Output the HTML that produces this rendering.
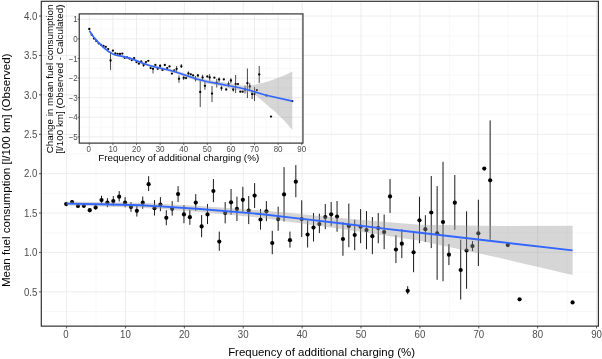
<!DOCTYPE html>
<html lang="en"><head><meta charset="utf-8"><title>Mean fuel consumption vs frequency of additional charging</title>
<style>html,body{margin:0;padding:0;background:#fff}svg{display:block;will-change:transform}text{font-family:"Liberation Sans",Arial,Helvetica,sans-serif}.tk{font-size:10.4px;fill:#4d4d4d}.lb{font-size:11.45px;fill:#000}.itk{font-size:8.5px;fill:#4d4d4d}.ilb{font-size:9.8px;fill:#000}</style></head><body>
<svg width="602" height="359" viewBox="0 0 602 359">
<rect width="602" height="359" fill="#fff"/>
<g stroke="#f0f0f0" stroke-width="0.5" fill="none">
<line x1="41.3" x2="598.4" y1="35.75" y2="35.75"/>
<line x1="41.3" x2="598.4" y1="75.15" y2="75.15"/>
<line x1="41.3" x2="598.4" y1="114.55" y2="114.55"/>
<line x1="41.3" x2="598.4" y1="153.95" y2="153.95"/>
<line x1="41.3" x2="598.4" y1="193.35" y2="193.35"/>
<line x1="41.3" x2="598.4" y1="232.75" y2="232.75"/>
<line x1="41.3" x2="598.4" y1="272.15" y2="272.15"/>
<line x1="41.3" x2="598.4" y1="311.55" y2="311.55"/>
<line x1="96.04" x2="96.04" y1="1.3" y2="326.15"/>
<line x1="154.92" x2="154.92" y1="1.3" y2="326.15"/>
<line x1="213.8" x2="213.8" y1="1.3" y2="326.15"/>
<line x1="272.68" x2="272.68" y1="1.3" y2="326.15"/>
<line x1="331.56" x2="331.56" y1="1.3" y2="326.15"/>
<line x1="390.44" x2="390.44" y1="1.3" y2="326.15"/>
<line x1="449.32" x2="449.32" y1="1.3" y2="326.15"/>
<line x1="508.2" x2="508.2" y1="1.3" y2="326.15"/>
<line x1="567.08" x2="567.08" y1="1.3" y2="326.15"/>
</g><g stroke="#e8e8e8" stroke-width="0.8" fill="none">
<line x1="41.3" x2="598.4" y1="16.05" y2="16.05"/>
<line x1="41.3" x2="598.4" y1="55.45" y2="55.45"/>
<line x1="41.3" x2="598.4" y1="94.85" y2="94.85"/>
<line x1="41.3" x2="598.4" y1="134.25" y2="134.25"/>
<line x1="41.3" x2="598.4" y1="173.65" y2="173.65"/>
<line x1="41.3" x2="598.4" y1="213.05" y2="213.05"/>
<line x1="41.3" x2="598.4" y1="252.45" y2="252.45"/>
<line x1="41.3" x2="598.4" y1="291.85" y2="291.85"/>
<line x1="66.6" x2="66.6" y1="1.3" y2="326.15"/>
<line x1="125.48" x2="125.48" y1="1.3" y2="326.15"/>
<line x1="184.36" x2="184.36" y1="1.3" y2="326.15"/>
<line x1="243.24" x2="243.24" y1="1.3" y2="326.15"/>
<line x1="302.12" x2="302.12" y1="1.3" y2="326.15"/>
<line x1="361" x2="361" y1="1.3" y2="326.15"/>
<line x1="419.88" x2="419.88" y1="1.3" y2="326.15"/>
<line x1="478.76" x2="478.76" y1="1.3" y2="326.15"/>
<line x1="537.64" x2="537.64" y1="1.3" y2="326.15"/>
<line x1="596.52" x2="596.52" y1="1.3" y2="326.15"/>
</g>
<g stroke="#1a1a1a" stroke-width="1" fill="none">
<line x1="72.09" x2="72.09" y1="200.3" y2="203.9"/>
<line x1="77.98" x2="77.98" y1="204.5" y2="207.5"/>
<line x1="83.86" x2="83.86" y1="204" y2="207.6"/>
<line x1="89.75" x2="89.75" y1="208" y2="212.4"/>
<line x1="95.64" x2="95.64" y1="205.2" y2="209.6"/>
<line x1="101.53" x2="101.53" y1="195.7" y2="203.6"/>
<line x1="107.42" x2="107.42" y1="198.1" y2="207.2"/>
<line x1="113.3" x2="113.3" y1="196.1" y2="205.8"/>
<line x1="119.19" x2="119.19" y1="191.1" y2="201.5"/>
<line x1="125.08" x2="125.08" y1="197.1" y2="207.2"/>
<line x1="130.97" x2="130.97" y1="202.1" y2="211.8"/>
<line x1="136.86" x2="136.86" y1="205.8" y2="216.6"/>
<line x1="142.74" x2="142.74" y1="196.5" y2="208.8"/>
<line x1="148.63" x2="148.63" y1="176.2" y2="191.1"/>
<line x1="154.52" x2="154.52" y1="200.1" y2="215.5"/>
<line x1="160.41" x2="160.41" y1="197.1" y2="211.2"/>
<line x1="166.3" x2="166.3" y1="210.2" y2="225.2"/>
<line x1="172.18" x2="172.18" y1="201.1" y2="215.6"/>
<line x1="178.07" x2="178.07" y1="186.1" y2="202.1"/>
<line x1="183.96" x2="183.96" y1="205.1" y2="223.2"/>
<line x1="189.85" x2="189.85" y1="209.6" y2="224.8"/>
<line x1="195.74" x2="195.74" y1="194.1" y2="210.8"/>
<line x1="201.62" x2="201.62" y1="215.1" y2="237.2"/>
<line x1="207.51" x2="207.51" y1="204.1" y2="224.1"/>
<line x1="213.4" x2="213.4" y1="179" y2="202.1"/>
<line x1="219.29" x2="219.29" y1="231.6" y2="250.8"/>
<line x1="225.18" x2="225.18" y1="202.1" y2="223.4"/>
<line x1="231.06" x2="231.06" y1="189" y2="214.7"/>
<line x1="236.95" x2="236.95" y1="196.6" y2="221"/>
<line x1="242.84" x2="242.84" y1="186.8" y2="212.1"/>
<line x1="248.73" x2="248.73" y1="196" y2="224.1"/>
<line x1="254.62" x2="254.62" y1="183.1" y2="208.1"/>
<line x1="260.5" x2="260.5" y1="209.1" y2="229.6"/>
<line x1="266.39" x2="266.39" y1="201.1" y2="221.1"/>
<line x1="272.28" x2="272.28" y1="230.8" y2="254.2"/>
<line x1="278.17" x2="278.17" y1="206.7" y2="230.8"/>
<line x1="284.06" x2="284.06" y1="167.1" y2="221.5"/>
<line x1="289.94" x2="289.94" y1="231.6" y2="247.6"/>
<line x1="295.83" x2="295.83" y1="165.1" y2="197.2"/>
<line x1="301.72" x2="301.72" y1="200.3" y2="237"/>
<line x1="307.61" x2="307.61" y1="220.5" y2="247.5"/>
<line x1="313.5" x2="313.5" y1="213.1" y2="241.5"/>
<line x1="319.38" x2="319.38" y1="213.7" y2="233.1"/>
<line x1="325.27" x2="325.27" y1="204" y2="229.1"/>
<line x1="331.16" x2="331.16" y1="202" y2="226.1"/>
<line x1="337.05" x2="337.05" y1="201" y2="231.7"/>
<line x1="342.94" x2="342.94" y1="222.1" y2="255.8"/>
<line x1="348.82" x2="348.82" y1="203.6" y2="247.2"/>
<line x1="354.71" x2="354.71" y1="219.7" y2="250.2"/>
<line x1="360.6" x2="360.6" y1="209.1" y2="243.2"/>
<line x1="366.49" x2="366.49" y1="211.1" y2="249.2"/>
<line x1="372.38" x2="372.38" y1="217.1" y2="254.2"/>
<line x1="378.26" x2="378.26" y1="213.1" y2="243.2"/>
<line x1="384.15" x2="384.15" y1="214.5" y2="249.1"/>
<line x1="390.04" x2="390.04" y1="179.1" y2="212.9"/>
<line x1="395.93" x2="395.93" y1="235.1" y2="263.1"/>
<line x1="401.82" x2="401.82" y1="229.1" y2="258.1"/>
<line x1="407.7" x2="407.7" y1="286.2" y2="294.2"/>
<line x1="413.59" x2="413.59" y1="233.1" y2="272.2"/>
<line x1="419.48" x2="419.48" y1="196.7" y2="243.1"/>
<line x1="425.37" x2="425.37" y1="215.2" y2="242"/>
<line x1="431.26" x2="431.26" y1="176" y2="248.1"/>
<line x1="437.14" x2="437.14" y1="186.1" y2="279.8"/>
<line x1="443.03" x2="443.03" y1="161.8" y2="281.2"/>
<line x1="448.92" x2="448.92" y1="244.1" y2="265.1"/>
<line x1="454.81" x2="454.81" y1="175" y2="229.9"/>
<line x1="460.7" x2="460.7" y1="239.6" y2="299.6"/>
<line x1="466.58" x2="466.58" y1="211.3" y2="288.8"/>
<line x1="472.47" x2="472.47" y1="241" y2="251.1"/>
<line x1="478.36" x2="478.36" y1="199.7" y2="266"/>
<line x1="490.14" x2="490.14" y1="120.4" y2="239.7"/>
</g><g fill="#000">
<circle cx="66.2" cy="204.1" r="2.1"/>
<circle cx="72.09" cy="202.1" r="2.1"/>
<circle cx="77.98" cy="206" r="2.1"/>
<circle cx="83.86" cy="205.8" r="2.1"/>
<circle cx="89.75" cy="210.2" r="2.1"/>
<circle cx="95.64" cy="207.4" r="2.1"/>
<circle cx="101.53" cy="200.1" r="2.1"/>
<circle cx="107.42" cy="202.5" r="2.1"/>
<circle cx="113.3" cy="201.1" r="2.1"/>
<circle cx="119.19" cy="196.7" r="2.1"/>
<circle cx="125.08" cy="202.5" r="2.1"/>
<circle cx="130.97" cy="207" r="2.1"/>
<circle cx="136.86" cy="210.8" r="2.1"/>
<circle cx="142.74" cy="202.7" r="2.1"/>
<circle cx="148.63" cy="184.2" r="2.1"/>
<circle cx="154.52" cy="208.2" r="2.1"/>
<circle cx="160.41" cy="204.5" r="2.1"/>
<circle cx="166.3" cy="217.8" r="2.1"/>
<circle cx="172.18" cy="208.7" r="2.1"/>
<circle cx="178.07" cy="194.1" r="2.1"/>
<circle cx="183.96" cy="214.4" r="2.1"/>
<circle cx="189.85" cy="217.2" r="2.1"/>
<circle cx="195.74" cy="202.6" r="2.1"/>
<circle cx="201.62" cy="226.4" r="2.1"/>
<circle cx="207.51" cy="214.4" r="2.1"/>
<circle cx="213.4" cy="191" r="2.1"/>
<circle cx="219.29" cy="241.6" r="2.1"/>
<circle cx="225.18" cy="213" r="2.1"/>
<circle cx="231.06" cy="202.3" r="2.1"/>
<circle cx="236.95" cy="208.9" r="2.1"/>
<circle cx="242.84" cy="199.8" r="2.1"/>
<circle cx="248.73" cy="210.5" r="2.1"/>
<circle cx="254.62" cy="195.6" r="2.1"/>
<circle cx="260.5" cy="219.5" r="2.1"/>
<circle cx="266.39" cy="211.3" r="2.1"/>
<circle cx="272.28" cy="243" r="2.1"/>
<circle cx="278.17" cy="219.1" r="2.1"/>
<circle cx="284.06" cy="194.4" r="2.1"/>
<circle cx="289.94" cy="240.2" r="2.1"/>
<circle cx="295.83" cy="181.7" r="2.1"/>
<circle cx="301.72" cy="219.1" r="2.1"/>
<circle cx="307.61" cy="234.6" r="2.1"/>
<circle cx="313.5" cy="227.6" r="2.1"/>
<circle cx="319.38" cy="224.1" r="2.1"/>
<circle cx="325.27" cy="217.1" r="2.1"/>
<circle cx="331.16" cy="214.3" r="2.1"/>
<circle cx="337.05" cy="216.6" r="2.1"/>
<circle cx="342.94" cy="239" r="2.1"/>
<circle cx="348.82" cy="226.1" r="2.1"/>
<circle cx="354.71" cy="235" r="2.1"/>
<circle cx="360.6" cy="226.7" r="2.1"/>
<circle cx="366.49" cy="230.1" r="2.1"/>
<circle cx="372.38" cy="236.2" r="2.1"/>
<circle cx="378.26" cy="228.1" r="2.1"/>
<circle cx="384.15" cy="232.1" r="2.1"/>
<circle cx="390.04" cy="196.4" r="2.1"/>
<circle cx="395.93" cy="249.5" r="2.1"/>
<circle cx="401.82" cy="243.7" r="2.1"/>
<circle cx="407.7" cy="290.8" r="2.1"/>
<circle cx="413.59" cy="252.3" r="2.1"/>
<circle cx="419.48" cy="220.3" r="2.1"/>
<circle cx="425.37" cy="229.2" r="2.1"/>
<circle cx="431.26" cy="212.5" r="2.1"/>
<circle cx="437.14" cy="233.3" r="2.1"/>
<circle cx="443.03" cy="222" r="2.1"/>
<circle cx="448.92" cy="254.7" r="2.1"/>
<circle cx="454.81" cy="202.7" r="2.1"/>
<circle cx="460.7" cy="270" r="2.1"/>
<circle cx="466.58" cy="250.5" r="2.1"/>
<circle cx="472.47" cy="246.1" r="2.1"/>
<circle cx="478.36" cy="233.3" r="2.1"/>
<circle cx="484.25" cy="168.6" r="2.1"/>
<circle cx="490.14" cy="180.3" r="2.1"/>
<circle cx="507.8" cy="245.1" r="2.1"/>
<circle cx="519.58" cy="299.3" r="2.1"/>
<circle cx="572.57" cy="302.4" r="2.1"/>
</g>
<polygon points="66.6,201.6 100,202 140,202.8 160,203.7 200,206 260,210.3 300,214 340,217.9 380,221.5 420,224.8 500,226 572.6,225.7 572.6,275.1 500,258 420,240.8 380,234.7 340,228.7 300,223.2 260,217.7 200,212 160,209.1 140,207.8 100,206.4 66.6,205.6" fill="#999" fill-opacity="0.4"/>
<polyline points="66.6,203.6 100,204.2 140,205.3 160,206.4 200,209 260,214 300,218.6 340,223.3 380,228.1 420,232.8 500,242 572.6,250.4" fill="none" stroke="#3366ff" stroke-width="1.9" stroke-linejoin="round"/>
<rect x="41.3" y="1.3" width="557.1" height="324.85" fill="none" stroke="#333" stroke-width="1.2"/>
<g stroke="#333" stroke-width="0.8">
<line x1="39" x2="41.3" y1="16.05" y2="16.05"/>
<line x1="39" x2="41.3" y1="55.45" y2="55.45"/>
<line x1="39" x2="41.3" y1="94.85" y2="94.85"/>
<line x1="39" x2="41.3" y1="134.25" y2="134.25"/>
<line x1="39" x2="41.3" y1="173.65" y2="173.65"/>
<line x1="39" x2="41.3" y1="213.05" y2="213.05"/>
<line x1="39" x2="41.3" y1="252.45" y2="252.45"/>
<line x1="39" x2="41.3" y1="291.85" y2="291.85"/>
<line x1="66.6" x2="66.6" y1="326.15" y2="328.45"/>
<line x1="125.48" x2="125.48" y1="326.15" y2="328.45"/>
<line x1="184.36" x2="184.36" y1="326.15" y2="328.45"/>
<line x1="243.24" x2="243.24" y1="326.15" y2="328.45"/>
<line x1="302.12" x2="302.12" y1="326.15" y2="328.45"/>
<line x1="361" x2="361" y1="326.15" y2="328.45"/>
<line x1="419.88" x2="419.88" y1="326.15" y2="328.45"/>
<line x1="478.76" x2="478.76" y1="326.15" y2="328.45"/>
<line x1="537.64" x2="537.64" y1="326.15" y2="328.45"/>
<line x1="596.52" x2="596.52" y1="326.15" y2="328.45"/>
</g>
<text class="tk" text-anchor="end" transform="translate(37.4 19.85) scale(0.93 1)">4.0</text>
<text class="tk" text-anchor="end" transform="translate(37.4 59.25) scale(0.93 1)">3.5</text>
<text class="tk" text-anchor="end" transform="translate(37.4 98.65) scale(0.93 1)">3.0</text>
<text class="tk" text-anchor="end" transform="translate(37.4 138.05) scale(0.93 1)">2.5</text>
<text class="tk" text-anchor="end" transform="translate(37.4 177.45) scale(0.93 1)">2.0</text>
<text class="tk" text-anchor="end" transform="translate(37.4 216.85) scale(0.93 1)">1.5</text>
<text class="tk" text-anchor="end" transform="translate(37.4 256.25) scale(0.93 1)">1.0</text>
<text class="tk" text-anchor="end" transform="translate(37.4 295.65) scale(0.93 1)">0.5</text>
<text class="tk" text-anchor="middle" transform="translate(66 338) scale(0.93 1)">0</text>
<text class="tk" text-anchor="middle" transform="translate(125.48 338) scale(0.93 1)">10</text>
<text class="tk" text-anchor="middle" transform="translate(184.36 338) scale(0.93 1)">20</text>
<text class="tk" text-anchor="middle" transform="translate(243.24 338) scale(0.93 1)">30</text>
<text class="tk" text-anchor="middle" transform="translate(302.12 338) scale(0.93 1)">40</text>
<text class="tk" text-anchor="middle" transform="translate(361 338) scale(0.93 1)">50</text>
<text class="tk" text-anchor="middle" transform="translate(419.88 338) scale(0.93 1)">60</text>
<text class="tk" text-anchor="middle" transform="translate(478.76 338) scale(0.93 1)">70</text>
<text class="tk" text-anchor="middle" transform="translate(537.64 338) scale(0.93 1)">80</text>
<text class="tk" text-anchor="middle" transform="translate(596.52 338) scale(0.93 1)">90</text>
<text class="lb" text-anchor="middle" x="321.6" y="355.5">Frequency of additional charging (%)</text>
<text class="lb" style="font-size:11.55px" text-anchor="middle" transform="translate(10 170.3) rotate(-90)">Mean fuel consumption [l/100 km] (Observed)</text>
<rect x="79.25" y="13.9" width="223.7" height="129.2" fill="#fff"/>
<g stroke="#f0f0f0" stroke-width="0.5" fill="none">
<line x1="79.25" x2="302.95" y1="29.05" y2="29.05"/>
<line x1="79.25" x2="302.95" y1="48.65" y2="48.65"/>
<line x1="79.25" x2="302.95" y1="68.25" y2="68.25"/>
<line x1="79.25" x2="302.95" y1="87.85" y2="87.85"/>
<line x1="79.25" x2="302.95" y1="107.45" y2="107.45"/>
<line x1="79.25" x2="302.95" y1="127.05" y2="127.05"/>
<line x1="101.1" x2="101.1" y1="13.9" y2="143.1"/>
<line x1="124.7" x2="124.7" y1="13.9" y2="143.1"/>
<line x1="148.3" x2="148.3" y1="13.9" y2="143.1"/>
<line x1="171.9" x2="171.9" y1="13.9" y2="143.1"/>
<line x1="195.5" x2="195.5" y1="13.9" y2="143.1"/>
<line x1="219.1" x2="219.1" y1="13.9" y2="143.1"/>
<line x1="242.7" x2="242.7" y1="13.9" y2="143.1"/>
<line x1="266.3" x2="266.3" y1="13.9" y2="143.1"/>
<line x1="289.9" x2="289.9" y1="13.9" y2="143.1"/>
</g><g stroke="#e8e8e8" stroke-width="0.8" fill="none">
<line x1="79.25" x2="302.95" y1="19.25" y2="19.25"/>
<line x1="79.25" x2="302.95" y1="38.85" y2="38.85"/>
<line x1="79.25" x2="302.95" y1="58.45" y2="58.45"/>
<line x1="79.25" x2="302.95" y1="78.05" y2="78.05"/>
<line x1="79.25" x2="302.95" y1="97.65" y2="97.65"/>
<line x1="79.25" x2="302.95" y1="117.25" y2="117.25"/>
<line x1="79.25" x2="302.95" y1="136.85" y2="136.85"/>
<line x1="89.3" x2="89.3" y1="13.9" y2="143.1"/>
<line x1="112.9" x2="112.9" y1="13.9" y2="143.1"/>
<line x1="136.5" x2="136.5" y1="13.9" y2="143.1"/>
<line x1="160.1" x2="160.1" y1="13.9" y2="143.1"/>
<line x1="183.7" x2="183.7" y1="13.9" y2="143.1"/>
<line x1="207.3" x2="207.3" y1="13.9" y2="143.1"/>
<line x1="230.9" x2="230.9" y1="13.9" y2="143.1"/>
<line x1="254.5" x2="254.5" y1="13.9" y2="143.1"/>
<line x1="278.1" x2="278.1" y1="13.9" y2="143.1"/>
<line x1="301.7" x2="301.7" y1="13.9" y2="143.1"/>
</g>
<g stroke="#1a1a1a" stroke-width="0.8" fill="none">
<line x1="110.54" x2="110.54" y1="53" y2="69.9"/>
<line x1="143.58" x2="143.58" y1="63" y2="66.8"/>
<line x1="153.02" x2="153.02" y1="67.5" y2="73.5"/>
<line x1="160.1" x2="160.1" y1="64.1" y2="68.1"/>
<line x1="176.62" x2="176.62" y1="66" y2="71.8"/>
<line x1="178.98" x2="178.98" y1="75.4" y2="82.8"/>
<line x1="181.34" x2="181.34" y1="64" y2="68"/>
<line x1="183.7" x2="183.7" y1="76" y2="80"/>
<line x1="188.42" x2="188.42" y1="71.4" y2="75.4"/>
<line x1="195.5" x2="195.5" y1="76" y2="81.4"/>
<line x1="197.86" x2="197.86" y1="74" y2="77.4"/>
<line x1="200.22" x2="200.22" y1="79.5" y2="107"/>
<line x1="202.58" x2="202.58" y1="74.7" y2="80.1"/>
<line x1="204.94" x2="204.94" y1="81.5" y2="89.8"/>
<line x1="209.66" x2="209.66" y1="74" y2="80.8"/>
<line x1="212.02" x2="212.02" y1="86" y2="102.1"/>
<line x1="216.74" x2="216.74" y1="78.8" y2="87.5"/>
<line x1="219.1" x2="219.1" y1="77.4" y2="82.1"/>
<line x1="221.46" x2="221.46" y1="85.5" y2="90.8"/>
<line x1="228.54" x2="228.54" y1="81.4" y2="86.8"/>
<line x1="230.9" x2="230.9" y1="78.1" y2="83.4"/>
<line x1="233.26" x2="233.26" y1="87.5" y2="91.5"/>
<line x1="235.62" x2="235.62" y1="75" y2="93"/>
<line x1="245.06" x2="245.06" y1="85.5" y2="93.5"/>
<line x1="247.42" x2="247.42" y1="68.5" y2="98.1"/>
<line x1="249.78" x2="249.78" y1="83.1" y2="90.1"/>
<line x1="252.14" x2="252.14" y1="90.1" y2="99.1"/>
<line x1="254.5" x2="254.5" y1="87.1" y2="101.1"/>
<line x1="259.22" x2="259.22" y1="66" y2="83.1"/>
</g><g fill="#000">
<circle cx="89.3" cy="29" r="1.15"/>
<circle cx="91.66" cy="34.7" r="1.15"/>
<circle cx="94.02" cy="38.5" r="1.15"/>
<circle cx="96.38" cy="41" r="1.15"/>
<circle cx="98.74" cy="43.4" r="1.15"/>
<circle cx="101.1" cy="45" r="1.15"/>
<circle cx="103.46" cy="46" r="1.15"/>
<circle cx="105.82" cy="46.8" r="1.15"/>
<circle cx="108.18" cy="49.1" r="1.15"/>
<circle cx="110.54" cy="60.5" r="1.15"/>
<circle cx="112.9" cy="50.7" r="1.15"/>
<circle cx="115.26" cy="53.4" r="1.15"/>
<circle cx="117.62" cy="53.8" r="1.15"/>
<circle cx="119.98" cy="54" r="1.15"/>
<circle cx="122.34" cy="53.6" r="1.15"/>
<circle cx="124.7" cy="57.8" r="1.15"/>
<circle cx="127.06" cy="57.4" r="1.15"/>
<circle cx="129.42" cy="58.5" r="1.15"/>
<circle cx="131.78" cy="60.1" r="1.15"/>
<circle cx="134.14" cy="58.1" r="1.15"/>
<circle cx="136.5" cy="62.1" r="1.15"/>
<circle cx="138.86" cy="63.7" r="1.15"/>
<circle cx="141.22" cy="61.4" r="1.15"/>
<circle cx="143.58" cy="65" r="1.15"/>
<circle cx="145.94" cy="62.1" r="1.15"/>
<circle cx="148.3" cy="60.8" r="1.15"/>
<circle cx="150.66" cy="68.1" r="1.15"/>
<circle cx="153.02" cy="68.8" r="1.15"/>
<circle cx="155.38" cy="65" r="1.15"/>
<circle cx="157.74" cy="68.8" r="1.15"/>
<circle cx="160.1" cy="65.9" r="1.15"/>
<circle cx="162.46" cy="69.9" r="1.15"/>
<circle cx="164.82" cy="65" r="1.15"/>
<circle cx="167.18" cy="68.1" r="1.15"/>
<circle cx="169.54" cy="66.4" r="1.15"/>
<circle cx="171.9" cy="73.6" r="1.15"/>
<circle cx="174.26" cy="70.5" r="1.15"/>
<circle cx="176.62" cy="68.8" r="1.15"/>
<circle cx="178.98" cy="78.8" r="1.15"/>
<circle cx="181.34" cy="66.3" r="1.15"/>
<circle cx="183.7" cy="77.8" r="1.15"/>
<circle cx="186.06" cy="78.1" r="1.15"/>
<circle cx="188.42" cy="73.4" r="1.15"/>
<circle cx="190.78" cy="74.3" r="1.15"/>
<circle cx="193.14" cy="75.4" r="1.15"/>
<circle cx="195.5" cy="78.8" r="1.15"/>
<circle cx="197.86" cy="75.4" r="1.15"/>
<circle cx="200.22" cy="92" r="1.15"/>
<circle cx="202.58" cy="77.4" r="1.15"/>
<circle cx="204.94" cy="85.8" r="1.15"/>
<circle cx="207.3" cy="76.5" r="1.15"/>
<circle cx="209.66" cy="77.4" r="1.15"/>
<circle cx="212.02" cy="93.6" r="1.15"/>
<circle cx="214.38" cy="77.7" r="1.15"/>
<circle cx="216.74" cy="82.8" r="1.15"/>
<circle cx="219.1" cy="79.4" r="1.15"/>
<circle cx="221.46" cy="88.1" r="1.15"/>
<circle cx="223.82" cy="79.4" r="1.15"/>
<circle cx="226.18" cy="89.5" r="1.15"/>
<circle cx="228.54" cy="84.1" r="1.15"/>
<circle cx="230.9" cy="80.5" r="1.15"/>
<circle cx="233.26" cy="89.5" r="1.15"/>
<circle cx="235.62" cy="84.1" r="1.15"/>
<circle cx="237.98" cy="84.1" r="1.15"/>
<circle cx="240.34" cy="91.7" r="1.15"/>
<circle cx="242.7" cy="91.7" r="1.15"/>
<circle cx="245.06" cy="89.5" r="1.15"/>
<circle cx="247.42" cy="83.2" r="1.15"/>
<circle cx="249.78" cy="86.5" r="1.15"/>
<circle cx="252.14" cy="94.1" r="1.15"/>
<circle cx="254.5" cy="94.1" r="1.15"/>
<circle cx="256.86" cy="90.1" r="1.15"/>
<circle cx="259.22" cy="74.4" r="1.15"/>
<circle cx="266.3" cy="95.5" r="1.15"/>
<circle cx="271.02" cy="116.6" r="1.15"/>
<circle cx="292.26" cy="101.1" r="1.15"/>
</g>
<polygon points="89.4,29.7 93.4,35.78 98.1,41.06 102.8,45.73 108.1,50.11 112.8,52.78 116.1,54.07 122.7,55.23 129.4,56.9 136.1,59.27 142.8,61.94 149.5,64.2 156.2,65.83 162.9,67.35 169.6,68.76 178,71.06 186.1,73.67 196.8,77.14 207.5,79.75 218.2,81.34 228.9,83.22 239.6,85.11 245,86.2 250,85.6 254,84.9 259.1,83.7 267.1,81.7 275.1,79.1 283.1,76 292.3,71.6 292.3,129.8 283.1,119.4 275.1,111.7 267.1,105.1 259.1,98.1 254,94.1 250,92.6 245,91.6 239.6,90.49 228.9,88.18 218.2,85.86 207.5,83.85 196.8,80.86 186.1,77.13 178,74.34 169.6,71.84 162.9,70.25 156.2,68.57 149.5,66.8 142.8,64.46 136.1,61.73 129.4,59.3 122.7,57.57 116.1,56.33 112.8,55.02 108.1,52.29 102.8,47.87 98.1,43.14 93.4,37.82 89.4,31.7" fill="#999" fill-opacity="0.4"/>
<polyline points="89.4,30.7 93.4,36.8 98.1,42.1 102.8,46.8 108.1,51.2 112.8,53.9 116.1,55.2 122.7,56.4 129.4,58.1 136.1,60.5 142.8,63.2 149.5,65.5 156.2,67.2 162.9,68.8 169.6,70.3 178,72.7 186.1,75.4 196.8,79 207.5,81.8 218.2,83.6 228.9,85.7 239.6,87.8 250.2,90.5 265.1,95 292.3,101.1" fill="none" stroke="#3366ff" stroke-width="1.6" stroke-linejoin="round"/>
<rect x="79.25" y="13.9" width="223.7" height="129.2" fill="none" stroke="#333" stroke-width="1.2"/>
<g stroke="#333" stroke-width="0.7">
<line x1="77.65" x2="79.25" y1="19.25" y2="19.25"/>
<line x1="77.65" x2="79.25" y1="38.85" y2="38.85"/>
<line x1="77.65" x2="79.25" y1="58.45" y2="58.45"/>
<line x1="77.65" x2="79.25" y1="78.05" y2="78.05"/>
<line x1="77.65" x2="79.25" y1="97.65" y2="97.65"/>
<line x1="77.65" x2="79.25" y1="117.25" y2="117.25"/>
<line x1="77.65" x2="79.25" y1="136.85" y2="136.85"/>
<line x1="89.3" x2="89.3" y1="143.1" y2="145.1"/>
<line x1="112.9" x2="112.9" y1="143.1" y2="145.1"/>
<line x1="136.5" x2="136.5" y1="143.1" y2="145.1"/>
<line x1="160.1" x2="160.1" y1="143.1" y2="145.1"/>
<line x1="183.7" x2="183.7" y1="143.1" y2="145.1"/>
<line x1="207.3" x2="207.3" y1="143.1" y2="145.1"/>
<line x1="230.9" x2="230.9" y1="143.1" y2="145.1"/>
<line x1="254.5" x2="254.5" y1="143.1" y2="145.1"/>
<line x1="278.1" x2="278.1" y1="143.1" y2="145.1"/>
<line x1="301.7" x2="301.7" y1="143.1" y2="145.1"/>
</g>
<text class="itk" text-anchor="end" transform="translate(77.8 22.35) scale(0.94 1)">1</text>
<text class="itk" text-anchor="end" transform="translate(77.8 41.95) scale(0.94 1)">0</text>
<text class="itk" text-anchor="end" transform="translate(77.8 61.55) scale(0.94 1)">−1</text>
<text class="itk" text-anchor="end" transform="translate(77.8 81.15) scale(0.94 1)">−2</text>
<text class="itk" text-anchor="end" transform="translate(77.8 100.75) scale(0.94 1)">−3</text>
<text class="itk" text-anchor="end" transform="translate(77.8 120.35) scale(0.94 1)">−4</text>
<text class="itk" text-anchor="end" transform="translate(77.8 139.95) scale(0.94 1)">−5</text>
<text class="itk" text-anchor="middle" transform="translate(88.6 151.9) scale(0.94 1)">0</text>
<text class="itk" text-anchor="middle" transform="translate(112.9 151.9) scale(0.94 1)">10</text>
<text class="itk" text-anchor="middle" transform="translate(136.5 151.9) scale(0.94 1)">20</text>
<text class="itk" text-anchor="middle" transform="translate(160.1 151.9) scale(0.94 1)">30</text>
<text class="itk" text-anchor="middle" transform="translate(183.7 151.9) scale(0.94 1)">40</text>
<text class="itk" text-anchor="middle" transform="translate(207.3 151.9) scale(0.94 1)">50</text>
<text class="itk" text-anchor="middle" transform="translate(230.9 151.9) scale(0.94 1)">60</text>
<text class="itk" text-anchor="middle" transform="translate(254.5 151.9) scale(0.94 1)">70</text>
<text class="itk" text-anchor="middle" transform="translate(278.1 151.9) scale(0.94 1)">80</text>
<text class="itk" text-anchor="middle" transform="translate(301.7 151.9) scale(0.94 1)">90</text>
<text class="ilb" style="font-size:9.85px" text-anchor="middle" x="178.75" y="161.3">Frequency of additional charging (%)</text>
<text class="ilb" text-anchor="middle" transform="translate(52.5 79) rotate(-90)">Change in mean fuel consumption</text>
<text class="ilb" text-anchor="middle" transform="translate(62.7 79.2) rotate(-90)">[l/100 km] (Observed - Calculated)</text>
</svg></body></html>
